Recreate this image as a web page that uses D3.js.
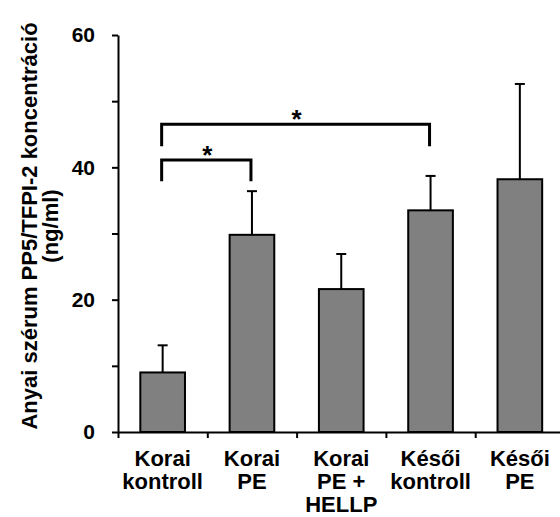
<!DOCTYPE html>
<html>
<head>
<meta charset="utf-8">
<script src="https://cdn.jsdelivr.net/npm/d3@7"></script>
<style>
  body { margin: 0; background: #fff; }
  svg { display: block; font-family: Arial, "Liberation Sans", sans-serif; font-weight: bold; }
</style>
</head>
<body>
<script>
const categories = [
  ['Korai', 'kontroll'],
  ['Korai', 'PE'],
  ['Korai', 'PE +', 'HELLP'],
  ['Késői', 'kontroll'],
  ['Késői', 'PE'],
]
const means = [9.0, 29.8, 21.6, 33.5, 38.2]
const errors = [4.1, 6.6, 5.3, 5.2, 14.4]
const yTicks = [0, 10, 20, 30, 40, 50, 60]
// significance brackets: [from, to], top and leg end in data units
const sigPairs = [[0, 1], [0, 3]]
const sigTop = [41.1, 46.5]
const sigLeg = [37.9, 43.2]
const titleLines = ['Anyai szérum PP5/TFPI-2  koncentráció', '(ng/ml)']

const WIDTH = 560
const HEIGHT = 517
const LEFT = 118
const BAND = 89.3

const svg = d3.select('body').append('svg')
  .attr('width', WIDTH)
  .attr('height', HEIGHT)

const y = d3.scaleLinear().domain([0, 60]).range([432, 35])
const x = d3.scaleLinear().domain([0, categories.length]).range([LEFT, LEFT + BAND * categories.length])
const barW = x(0.5) - x(0)

// bars
svg.selectAll('rect.bar')
  .data(means)
  .enter()
  .append('rect')
  .attr('class', 'bar')
  .attr('x', (d, i) => x(i + 0.25))
  .attr('y', d => y(d))
  .attr('width', barW)
  .attr('height', d => y(0) - y(d))
  .attr('fill', '#808080')
  .attr('stroke', '#000')
  .attr('stroke-width', 2)

// error bars (upper only)
const err = svg.selectAll('g.err')
  .data(means)
  .enter()
  .append('g')
  .attr('stroke', '#000')
  .attr('stroke-width', 2)

err.append('line')
  .attr('x1', (d, i) => x(i + 0.5))
  .attr('x2', (d, i) => x(i + 0.5))
  .attr('y1', d => y(d))
  .attr('y2', (d, i) => y(d + errors[i]))

err.append('line')
  .attr('x1', (d, i) => x(i + 0.5) - 5)
  .attr('x2', (d, i) => x(i + 0.5) + 5)
  .attr('y1', (d, i) => y(d + errors[i]))
  .attr('y2', (d, i) => y(d + errors[i]))

// axes
const yAxis = d3.axisLeft(y)
  .tickValues(yTicks)
  .tickSize(6)
  .tickSizeOuter(0)
  .tickPadding(17)
  .tickFormat(d => d % 20 === 0 ? d : '')

const leftAxis = svg.append('g')
  .attr('transform', `translate(${LEFT}, 0)`)
  .call(yAxis)

const xAxis = d3.axisBottom(x)
  .tickValues(d3.range(categories.length + 1))
  .tickSize(6)
  .tickSizeOuter(0)
  .tickFormat('')

const bottomAxis = svg.append('g')
  .attr('transform', `translate(0, ${y(0)})`)
  .call(xAxis)

svg.selectAll('.domain, .tick line')
  .attr('stroke', '#000')
  .attr('stroke-width', 2)

leftAxis.selectAll('text')
  .attr('font-size', 21)
  .attr('font-weight', 'bold')
  .attr('font-family', 'Arial, "Liberation Sans", sans-serif')
  .attr('fill', '#000')

// category labels
const labels = svg.selectAll('text.cat')
  .data(categories)
  .enter()
  .append('text')
  .attr('class', 'cat')
  .attr('text-anchor', 'middle')
  .attr('font-size', 22)
  .attr('fill', '#000')

labels.selectAll('tspan')
  .data((d, i) => d.map(t => ({ t, i })))
  .enter()
  .append('tspan')
  .attr('x', d => x(d.i + 0.5))
  .attr('y', (d, j) => 466 + j * 23)
  .text(d => d.t)

// y title
svg.append('text')
  .attr('transform', `translate(37, 226) rotate(-90)`)
  .attr('text-anchor', 'middle')
  .attr('font-size', 22)
  .attr('fill', '#000')
  .selectAll('tspan')
  .data(titleLines)
  .enter()
  .append('tspan')
  .attr('x', 0)
  .attr('y', (d, i) => i * 21)
  .text(d => d)

// significance brackets
const sig = svg.selectAll('g.sig')
  .data(sigPairs)
  .enter()
  .append('g')

sig.append('path')
  .attr('fill', 'none')
  .attr('stroke', '#000')
  .attr('stroke-width', 3)
  .attr('d', (d, i) => {
    const x1 = x(d[0] + 0.5) - 1
    const x2 = x(d[1] + 0.5) - 1
    return `M${x1},${y(sigLeg[i])}V${y(sigTop[i])}H${x2}V${y(sigLeg[i])}`
  })

sig.append('text')
  .attr('x', d => (x(d[0] + 0.5) + x(d[1] + 0.5)) / 2)
  .attr('y', (d, i) => y(sigTop[i]) + 4)
  .attr('text-anchor', 'middle')
  .attr('font-size', 26)
  .attr('fill', '#000')
  .text('*')
</script>
</body>
</html>
